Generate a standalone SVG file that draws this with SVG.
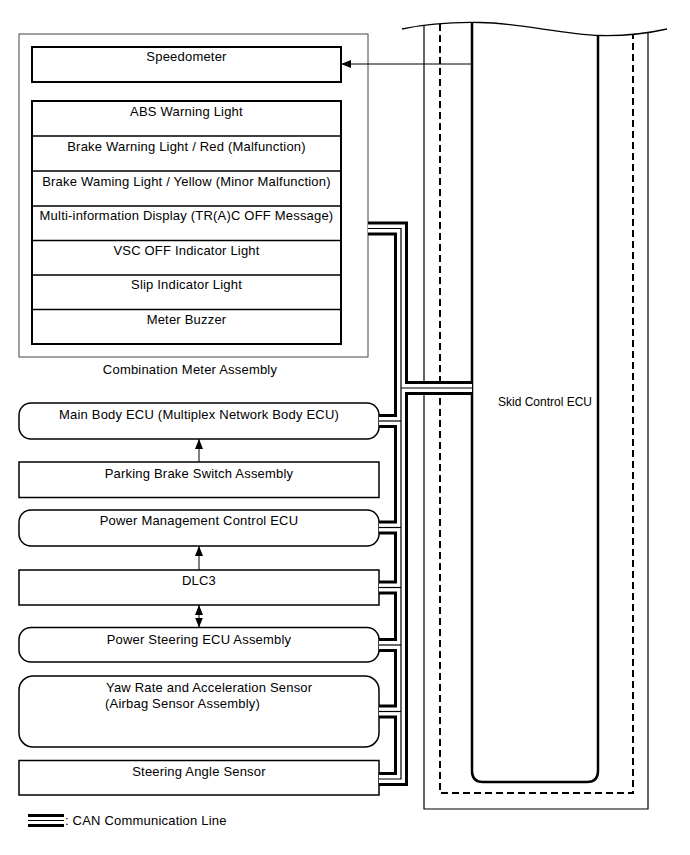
<svg xmlns="http://www.w3.org/2000/svg" xmlns:xlink="http://www.w3.org/1999/xlink" width="690" height="855" viewBox="0 0 690 855">
<style>
text{font-family:"Liberation Sans",Arial,sans-serif;font-size:13px;letter-spacing:0.2px;fill:#000}
.c{text-anchor:middle}
.sm{font-size:12px;letter-spacing:0}
.box{fill:#fff;stroke:#000;stroke-width:1.5}
.thin{fill:none;stroke:#444;stroke-width:1}
.ln{fill:none;stroke:#000;stroke-width:1.3}
.arr{fill:none;stroke:#000;stroke-width:1}
</style>
<defs>
<marker id="ah" viewBox="0 0 10 8" refX="10" refY="4" markerWidth="10" markerHeight="8" markerUnits="userSpaceOnUse" orient="auto-start-reverse">
<path d="M0,0 L10,4 L0,8 Z" fill="#000"/>
</marker>
<g id="busPaths" fill="none">
<path d="M368,228.5 H401 V779 H379"/>
<path d="M379,421 H401"/>
<path d="M379,527.5 H401"/>
<path d="M379,587.5 H401"/>
<path d="M379,645 H401"/>
<path d="M379,711.5 H401"/>
<path d="M401,388 H472"/>
</g>
</defs>
<rect width="690" height="855" fill="#fff"/>

<g id="skid-control-ecu">
<path class="ln" d="M402,29 C430,23 455,22 480,22.5 C520,23 560,34 600,35.5 C625,36 645,34 667,29"/>
<path fill="none" stroke="#000" stroke-width="1.2" d="M424,26 V809 H648 V33"/>
<path fill="none" stroke="#000" stroke-width="2" stroke-dasharray="7,4" d="M440,24 V793 H633 V35"/>
<path fill="none" stroke="#000" stroke-width="2.5" d="M472,22.7 V771 Q472,782 483,782 H587 Q598,782 598,771 V35.4"/>
<text class="sm" x="498" y="406">Skid Control ECU</text>
</g>

<g id="combination-meter">
<rect class="thin" x="19" y="34" width="349" height="323"/>
<text class="c" x="190" y="374">Combination Meter Assembly</text>
</g>
<g id="speedometer">
<rect x="32" y="47" width="309" height="35" fill="#fff" stroke="#000" stroke-width="2"/>
<text class="c" x="186.5" y="61">Speedometer</text>
</g>
<g id="meter-indicators">
<rect x="32" y="101" width="309" height="243" fill="#fff" stroke="#000" stroke-width="2"/>
<path class="ln" d="M32,136 H341 M32,171 H341 M32,206 H341 M32,240.5 H341 M32,275 H341 M32,309.5 H341"/>
<text class="c" x="186.5" y="116">ABS Warning Light</text>
<text class="c" x="186.5" y="150.5">Brake Warning Light / Red (Malfunction)</text>
<text class="c" x="186.5" y="185.5">Brake Waming Light / Yellow (Minor Malfunction)</text>
<text class="c" x="186.5" y="219.5">Multi-information Display (TR(A)C OFF Message)</text>
<text class="c" x="186.5" y="254.5">VSC OFF Indicator Light</text>
<text class="c" x="186.5" y="289">Slip Indicator Light</text>
<text class="c" x="186.5" y="324">Meter Buzzer</text>
</g>

<g id="main-body-ecu">
<rect class="box" x="19" y="403" width="360" height="36" rx="12"/>
<text class="c" x="199" y="418.5">Main Body ECU (Multiplex Network Body ECU)</text>
</g>
<g id="parking-brake-switch">
<rect class="box" x="19" y="462" width="360" height="35.5"/>
<text class="c" x="199" y="477.5">Parking Brake Switch Assembly</text>
</g>
<g id="power-management-ecu">
<rect class="box" x="19" y="510" width="360" height="36" rx="12"/>
<text class="c" x="199" y="524.5">Power Management Control ECU</text>
</g>
<g id="dlc3">
<rect class="box" x="19" y="570" width="360" height="35"/>
<text class="c" x="199" y="584.5">DLC3</text>
</g>
<g id="power-steering-ecu">
<rect class="box" x="19" y="627.5" width="360" height="34.5" rx="12"/>
<text class="c" x="199" y="643.5">Power Steering ECU Assembly</text>
</g>
<g id="yaw-rate-sensor">
<rect class="box" x="19" y="676" width="360" height="71" rx="14"/>
<text x="106" y="691.5">Yaw Rate and Acceleration Sensor</text>
<text x="105" y="707.5">(Airbag Sensor Assembly)</text>
</g>
<g id="steering-angle-sensor">
<rect class="box" x="19" y="760.5" width="360" height="34.5"/>
<text class="c" x="199" y="775.5">Steering Angle Sensor</text>
</g>

<g id="connectors">
<use xlink:href="#busPaths" href="#busPaths" stroke="#000" stroke-width="14"/>
<use xlink:href="#busPaths" href="#busPaths" stroke="#fff" stroke-width="8"/>
<use xlink:href="#busPaths" href="#busPaths" stroke="#000" stroke-width="1.2"/>
<path class="arr" d="M472,64 H341" marker-end="url(#ah)"/>
<path class="arr" d="M199,462 V439" marker-end="url(#ah)"/>
<path class="arr" d="M199,570 V546" marker-end="url(#ah)"/>
<path class="arr" d="M199,605 V627.5" marker-start="url(#ah)" marker-end="url(#ah)"/>
</g>

<g id="legend">
<path d="M28,820.5 H64" stroke="#000" stroke-width="13" fill="none"/>
<path d="M28,820.5 H64" stroke="#fff" stroke-width="7" fill="none"/>
<path d="M28,820.5 H64" stroke="#000" stroke-width="1.2" fill="none"/>
<text x="65" y="824.5">: CAN Communication Line</text>
</g>
</svg>
